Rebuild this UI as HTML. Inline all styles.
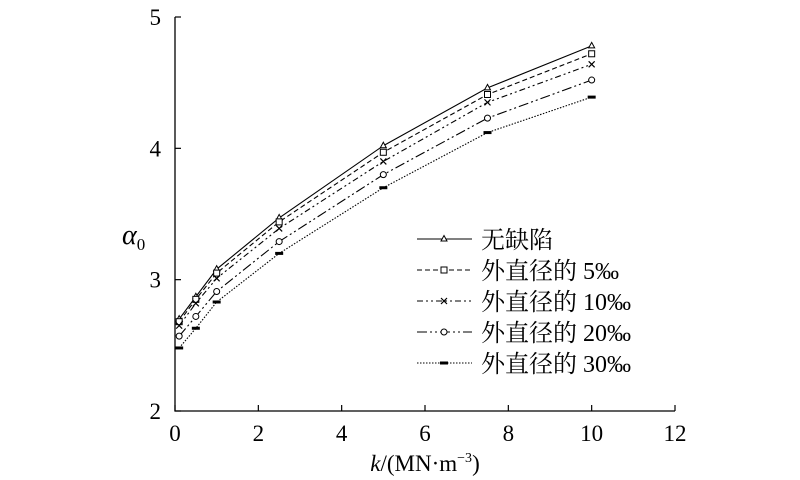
<!DOCTYPE html>
<html><head><meta charset="utf-8"><style>body{margin:0;background:#fff}svg{display:block}</style></head>
<body>
<svg id="chart" width="800" height="480" xmlns="http://www.w3.org/2000/svg" font-family="'Liberation Serif','Noto Serif CJK SC',serif"></svg>
<script>
const xValues=[0.1,0.5,1,2.5,5,7.5,10];
const seriesNames=["无缺陷","外直径的 5‰","外直径的 10‰","外直径的 20‰","外直径的 30‰"];
const sNone=[2.70,2.87,3.08,3.47,4.02,4.46,4.78];
const s5=[2.68,2.85,3.05,3.44,3.97,4.41,4.72];
const s10=[2.65,2.82,3.01,3.39,3.90,4.35,4.64];
const s20=[2.57,2.72,2.91,3.29,3.80,4.23,4.52];
const s30=[2.48,2.63,2.83,3.20,3.70,4.12,4.39];
const xTicks=[0,2,4,6,8,10,12];
const yTicks=[2,3,4,5];
const NS="http://www.w3.org/2000/svg";
const svg=document.getElementById('chart');
const X0=175,X1=675,Y0=411,Y1=17;
const sx=v=>X0+(v-0)/(12-0)*(X1-X0);
const sy=v=>Y0-(v-2)/(5-2)*(Y0-Y1);
function mk(t,a,p){const e=document.createElementNS(NS,t);for(const k in a)e.setAttribute(k,a[k]);(p||svg).appendChild(e);return e;}
const ax=mk('path',{d:`M${X0},${Y1} L${X0},${Y0} L${X1},${Y0}`,fill:'none',stroke:'#000','stroke-width':1.3});


xTicks.forEach(t=>{const x=sx(t);
 const l=mk('line',{x1:x,x2:x,y1:Y0,y2:Y0-6,stroke:'#000','stroke-width':1.2});
 
 
 const tx=mk('text',{x:x,y:Y0+30,'text-anchor':'middle','font-size':23});tx.textContent=t;
 
 });
yTicks.forEach(t=>{const y=sy(t);
 const l=mk('line',{x1:X0,x2:X0+6,y1:y,y2:y,stroke:'#000','stroke-width':1.2});
 
 
 const tx=mk('text',{x:X0-14,y:y+8,'text-anchor':'end','font-size':23});tx.textContent=t;
 
 });
const yt=mk('text',{x:122,y:244,'font-size':28,'font-style':'italic'});yt.innerHTML='α<tspan font-size="17" font-style="normal" dy="6">0</tspan>';


const xt=mk('text',{x:425,y:471,'text-anchor':'middle','font-size':23});xt.innerHTML='<tspan font-style="italic">k</tspan>/(MN·m<tspan font-size="14" dy="-9">−3</tspan><tspan dy="9">)</tspan>';


const data=[sNone,s5,s10,s20,s30];
const dashes=['none','5,3','6,3,2,3,2,3','10,3,2,3,2,3','1.5,1.5'];
const markers=['tri','sq','x','circ','bar'];
function marker(type,x,y,g){
 if(type==='tri')mk('path',{d:`M${x},${y-3.5} L${x+3},${y+2} L${x-3},${y+2}Z`,fill:'#fff',stroke:'#000','stroke-width':1},g);
 else if(type==='sq')mk('rect',{x:x-3,y:y-3,width:6,height:6,fill:'#fff',stroke:'#000','stroke-width':1},g);
 else if(type==='x')mk('path',{d:`M${x-3},${y-3}L${x+3},${y+3}M${x+3},${y-3}L${x-3},${y+3}`,stroke:'#000','stroke-width':1.2},g);
 else if(type==='circ')mk('circle',{cx:x,cy:y,r:3,fill:'#fff',stroke:'#000','stroke-width':1},g);
 else mk('rect',{x:x-4,y:y-1.5,width:8,height:3,fill:'#000'},g);
}
data.forEach((s,i)=>{
 const g=mk('g',{});
 
 
 const d=s.map((v,j)=>(j?'L':'M')+sx(xValues[j])+','+sy(v)).join(' ');
 const p=mk('path',{d:d,fill:'none',stroke:'#000','stroke-width':1.1,'stroke-dasharray':dashes[i]},g);
 
 
 s.forEach((v,j)=>marker(markers[i],sx(xValues[j]),sy(v),g));
 const ly=239+i*31;
 const lg=mk('g',{});
 
 
 mk('line',{x1:417,x2:472,y1:ly,y2:ly,stroke:'#000','stroke-width':1.1,'stroke-dasharray':dashes[i]},lg);
 marker(markers[i],444,ly,lg);
 const t=mk('text',{x:481,y:ly+9,'font-size':24},lg);t.textContent=seriesNames[i];
});
</script>
</body></html>
